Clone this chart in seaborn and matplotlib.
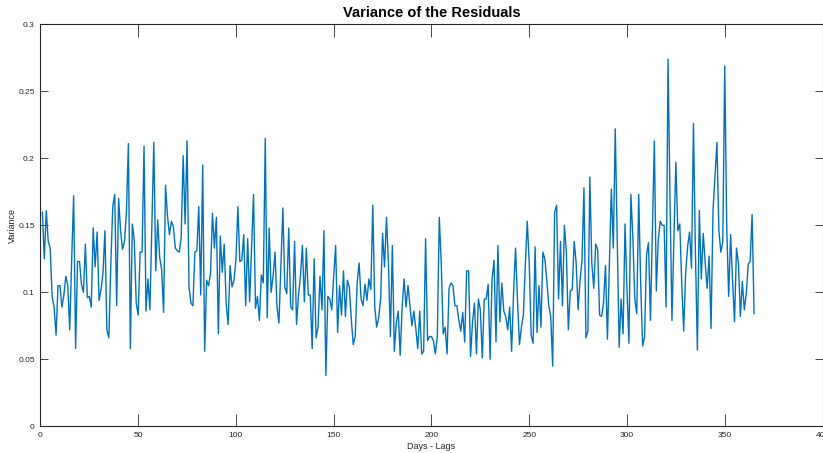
import numpy as np
import pandas as pd
import matplotlib
matplotlib.use("Agg")
import matplotlib.pyplot as plt
import seaborn as sns

# ============================================================
# Data
# ============================================================

variance = [
    0.160, 0.125, 0.161, 0.138, 0.133, 0.097, 0.089, 0.068, 0.105, 0.105,
    0.089, 0.098, 0.112, 0.105, 0.072, 0.125, 0.172, 0.058, 0.123, 0.123,
    0.106, 0.100, 0.136, 0.096, 0.097, 0.089, 0.148, 0.119, 0.145, 0.094,
    0.102, 0.114, 0.146, 0.072, 0.066, 0.120, 0.164, 0.173, 0.090,
    0.170, 0.146, 0.132, 0.138, 0.160, 0.211, 0.058, 0.151, 0.139, 0.092,
    0.083, 0.130, 0.130, 0.209, 0.086, 0.110, 0.087, 0.150, 0.212, 0.116,
    0.154, 0.126, 0.117, 0.085, 0.180, 0.157, 0.143, 0.153, 0.149, 0.133,
    0.131, 0.130, 0.141, 0.202, 0.151, 0.213, 0.104, 0.092, 0.090, 0.130,
    0.131, 0.164, 0.098, 0.195, 0.056, 0.109, 0.105, 0.114, 0.159, 0.133,
    0.156, 0.069, 0.142, 0.115, 0.136, 0.092, 0.076, 0.120, 0.104, 0.109,
    0.124, 0.164, 0.123, 0.124, 0.143, 0.090, 0.140, 0.093, 0.134, 0.173,
    0.088, 0.097, 0.079, 0.113, 0.107, 0.215, 0.081, 0.148, 0.100, 0.112,
    0.130, 0.089, 0.077, 0.119, 0.163, 0.104, 0.099, 0.148, 0.089, 0.087,
    0.138, 0.076, 0.098, 0.112, 0.135, 0.093, 0.133, 0.098, 0.098, 0.058,
    0.125, 0.066, 0.074, 0.112, 0.087, 0.146, 0.038, 0.097, 0.095, 0.087,
    0.112, 0.135, 0.070, 0.105, 0.083, 0.116, 0.082, 0.109, 0.104, 0.080,
    0.061, 0.067, 0.107, 0.122, 0.095, 0.090, 0.106, 0.094, 0.110, 0.102,
    0.165, 0.089, 0.074, 0.081, 0.095, 0.144, 0.119, 0.156, 0.122, 0.067,
    0.135, 0.056, 0.077, 0.086, 0.053, 0.089, 0.110, 0.089, 0.105, 0.090,
    0.075, 0.086, 0.073, 0.058, 0.086, 0.054, 0.056, 0.140, 0.064, 0.067,
    0.067, 0.064, 0.054, 0.067, 0.156, 0.122, 0.069, 0.074, 0.054, 0.103,
    0.107, 0.105, 0.090, 0.090, 0.079, 0.071, 0.085, 0.063, 0.116, 0.116,
    0.052, 0.078, 0.092, 0.054, 0.095, 0.087, 0.051, 0.095, 0.095, 0.106,
    0.050, 0.110, 0.124, 0.063, 0.135, 0.078, 0.107, 0.086, 0.082, 0.072,
    0.089, 0.056, 0.100, 0.133, 0.094, 0.061, 0.074, 0.083, 0.120, 0.153,
    0.122, 0.068, 0.062, 0.134, 0.070, 0.105, 0.074, 0.130, 0.125, 0.109,
    0.090, 0.082, 0.045, 0.160, 0.165, 0.095, 0.138, 0.090, 0.150, 0.130,
    0.072, 0.101, 0.102, 0.138, 0.122, 0.087, 0.109, 0.124, 0.178, 0.066,
    0.071, 0.186, 0.122, 0.103, 0.136, 0.132, 0.083, 0.082, 0.092, 0.120,
    0.065, 0.120, 0.177, 0.133, 0.222, 0.140, 0.059, 0.095, 0.069, 0.151,
    0.102, 0.062, 0.173, 0.141, 0.095, 0.084, 0.173, 0.107, 0.060, 0.067,
    0.128, 0.137, 0.079, 0.146, 0.213, 0.101, 0.139, 0.153, 0.150,
    0.150, 0.089, 0.274, 0.170, 0.079, 0.140, 0.197, 0.146, 0.151, 0.107,
    0.071, 0.114, 0.134, 0.145, 0.118, 0.226, 0.130, 0.057, 0.161, 0.110,
    0.144, 0.122, 0.103, 0.127, 0.073, 0.161, 0.186, 0.212, 0.146, 0.130,
    0.138, 0.269, 0.150, 0.097, 0.143, 0.109, 0.078, 0.133, 0.122, 0.082,
    0.108, 0.087, 0.099, 0.121, 0.123, 0.158, 0.084,
]
days = list(range(1, len(variance) + 1))

x_ticks = [0, 50, 100, 150, 200, 250, 300, 350, 400]
y_ticks = [0, 0.05, 0.1, 0.15, 0.2, 0.25, 0.3]
y_tick_labels = ["0", "0.05", "0.1", "0.15", "0.2", "0.25", "0.3"]

df = pd.DataFrame({"Day": days, "Variance": variance})

# ============================================================
# Plot
# ============================================================

sns.set_style("white")
plt.rcParams["font.family"] = ["Liberation Sans", "DejaVu Sans"]

dark = "#262626"
fig = plt.figure(figsize=(8.23, 4.53), dpi=100)
ax = fig.add_axes([0.0491, 0.0589, 0.9503, 0.8874])

sns.lineplot(data=df, x="Day", y="Variance", color="#0072BD",
             linewidth=1.0, ax=ax)

ax.set_xlim(0, 400)
ax.set_ylim(0, 0.3)
ax.set_xticks(x_ticks)
ax.set_xticklabels([str(t) for t in x_ticks])
ax.set_yticks(y_ticks)
ax.set_yticklabels(y_tick_labels)

for side in ["left", "right", "top", "bottom"]:
    ax.spines[side].set_visible(True)
    ax.spines[side].set_color(dark)
    ax.spines[side].set_linewidth(0.8)

ax.tick_params(axis="x", direction="in", length=9, width=0.6, top=True,
               bottom=True, labelsize=6, colors=dark, pad=4)
ax.tick_params(axis="y", direction="in", length=6, width=0.6, left=True,
               right=True, labelsize=6, colors=dark, pad=4)

ax.set_title("Variance of the Residuals", fontsize=10.5, fontweight="bold",
             color="black", pad=5)
ax.set_xlabel("Days - Lags", fontsize=6.5, color=dark, labelpad=2)
ax.set_ylabel("Variance", fontsize=6.5, color=dark, labelpad=1)

plt.savefig("out.png", dpi=100)
